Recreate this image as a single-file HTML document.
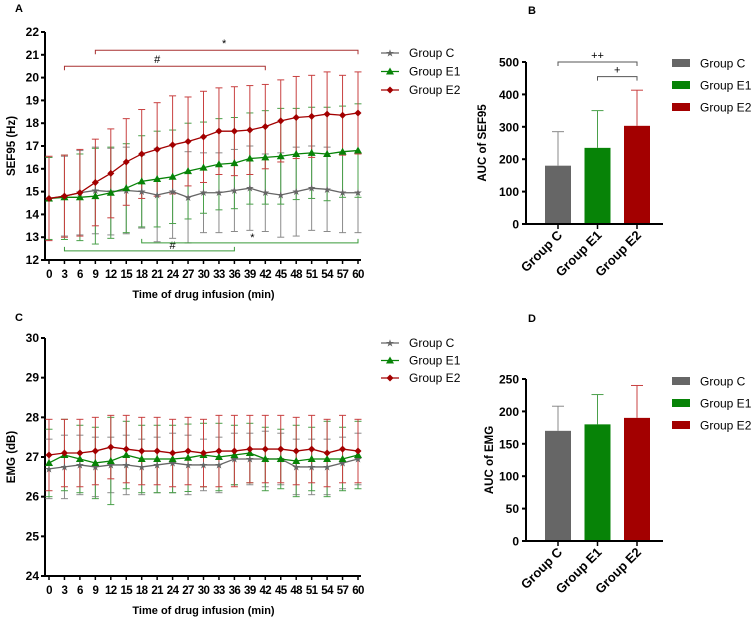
<!DOCTYPE html>
<html><head><meta charset="utf-8"><style>
body{margin:0;background:#fff}
svg{display:block;font-family:"Liberation Sans",Arial,sans-serif}
</style></head><body>
<svg id="s" width="753" height="625" viewBox="0 0 753 625"></svg>
<script>
const times=[0,3,6,9,12,15,18,21,24,27,30,33,36,39,42,45,48,51,54,57,60];
const sefC=[14.7,14.8,14.95,15.05,15.0,15.05,15.0,14.85,15.0,14.75,14.95,14.95,15.05,15.15,14.95,14.85,15.0,15.15,15.1,14.95,14.95];
const sefE1=[14.7,14.75,14.75,14.8,14.95,15.15,15.45,15.55,15.65,15.9,16.05,16.2,16.25,16.45,16.5,16.55,16.65,16.7,16.65,16.75,16.8];
const sefE2=[14.7,14.8,14.95,15.4,15.8,16.3,16.65,16.85,17.05,17.2,17.4,17.65,17.65,17.7,17.85,18.1,18.25,18.3,18.4,18.35,18.45];
const sefSdC=[1.8,1.75,1.85,1.9,1.9,1.9,1.6,2.05,2.05,2.0,1.75,1.75,1.8,1.85,1.7,1.85,1.95,1.85,1.85,1.75,1.75];
const sefSdE1=[1.8,1.85,1.9,2.1,2.0,1.95,2.0,2.1,2.05,2.1,2.0,2.0,2.0,2.0,2.05,2.1,2.0,2.0,2.05,2.0,2.05];
const sefSdE2=[1.85,1.8,1.9,1.9,1.95,1.9,1.95,2.05,2.15,1.95,2.0,1.9,1.95,1.95,1.85,1.8,1.8,1.8,1.85,1.75,1.8];
const emgC=[26.7,26.75,26.8,26.75,26.8,26.8,26.75,26.8,26.85,26.8,26.8,26.8,26.95,26.95,26.95,26.95,26.75,26.75,26.75,26.85,26.95];
const emgE1=[26.85,27.05,26.95,26.85,26.9,27.05,26.95,26.95,26.95,26.98,27.05,27.0,27.05,27.1,26.95,26.95,26.9,26.95,26.95,26.95,27.05];
const emgE2=[27.05,27.1,27.1,27.15,27.25,27.2,27.15,27.15,27.1,27.15,27.1,27.15,27.15,27.2,27.2,27.2,27.15,27.2,27.1,27.2,27.15];
const emgSdC=[0.75,0.8,0.75,0.75,0.7,0.75,0.7,0.7,0.75,0.75,0.65,0.7,0.65,0.65,0.7,0.65,0.7,0.7,0.7,0.65,0.65];
const emgSdE1=[0.85,0.9,0.85,0.9,1.1,0.85,0.85,0.85,0.85,0.85,0.8,0.85,0.75,0.75,0.8,0.75,0.9,0.8,0.95,0.8,0.85];
const emgSdE2=[0.9,0.85,0.85,0.85,0.8,0.85,0.85,0.85,0.85,0.85,0.85,0.9,0.9,0.85,0.85,0.85,0.85,0.85,0.85,0.85,0.8];
const groups=["Group C","Group E1","Group E2"];
const aucSef=[180,235,303];
const aucSefSd=[105,115,110];
const aucEmg=[170,180,190];
const aucEmgSd=[38,46,50];
const cols=["#666666","#078307","#a30000"];
const ecols=["#8a8a8a","#4aa04a","#c84040"];

const S=document.getElementById('s');const NS="http://www.w3.org/2000/svg";
function el(t,a,p,txt){const e=document.createElementNS(NS,t);for(const k in a)e.setAttribute(k,a[k]);if(txt!==undefined)e.textContent=txt;(p||S).appendChild(e);return e;}
function grp(name,p){const g=el('g',{},p);return g;}

function lineChart(o){
 const P=grp(o.name);
 const x=t=>o.x0+(t/60)*(o.x1-o.x0);
 const y=v=>o.yb+(v-o.ymin)/(o.ymax-o.ymin)*(o.yt-o.yb);
 const ax=grp('y-axis',P);
 el('line',{x1:o.ax,y1:o.yt,x2:o.ax,y2:o.yb,stroke:'#000','stroke-width':2},ax);
 for(let v=o.ymin;v<=o.ymax;v++){el('line',{x1:o.ax-4,y1:y(v),x2:o.ax,y2:y(v),stroke:'#000','stroke-width':2},ax);
  const t=el('text',{x:o.ax-6,y:y(v)+4,'text-anchor':'end','font-size':12,'font-weight':'bold'},ax,v);}
 const xa=grp('x-axis',P);
 el('line',{x1:o.ax-1,y1:o.yb,x2:o.x1+3,y2:o.yb,stroke:'#000','stroke-width':2},xa);
 times.forEach(t=>{el('line',{x1:x(t),y1:o.yb,x2:x(t),y2:o.yb+4,stroke:'#000','stroke-width':1.5},xa);
  const tl=el('text',{x:x(t),y:o.yb+18,'text-anchor':'middle','font-size':11.5,'font-weight':'bold','letter-spacing':'-0.6'},xa,t);});
 const xt=el('text',{x:(o.x0+o.x1)/2,y:o.yb+38,'text-anchor':'middle','font-size':11,'font-weight':'bold'},P,'Time of drug infusion (min)');
 const yt=el('text',{x:0,y:0,transform:`translate(${o.ax-30},${(o.yt+o.yb)/2}) rotate(-90)`,'text-anchor':'middle','font-size':11.5,'font-weight':'bold'},P,o.ytitle);
 const pl=el('text',{x:o.ax-30,y:o.ply,'font-size':11,'font-weight':'bold'},P,o.label);
 o.series.forEach((s,i)=>{
  const g=grp('series-'+groups[i].toLowerCase().replace(' ','-'),P);
  s.v.forEach((v,j)=>{const xx=x(times[j]);
   el('line',{x1:xx,y1:y(v-s.sd[j]),x2:xx,y2:y(v+s.sd[j]),stroke:ecols[i],'stroke-width':1},g);
   [v-s.sd[j],v+s.sd[j]].forEach(w=>el('line',{x1:xx-3.5,y1:y(w),x2:xx+3.5,y2:y(w),stroke:ecols[i],'stroke-width':1},g));});
 });
 o.series.forEach((s,i)=>{
  const g=grp('line-'+groups[i].toLowerCase().replace(' ','-'),P);
  el('polyline',{points:s.v.map((v,j)=>x(times[j])+','+y(v)).join(' '),fill:'none',stroke:cols[i],'stroke-width':1.3},g);
  s.v.forEach((v,j)=>marker(i,x(times[j]),y(v),g));
 });
 const L=grp('legend',P);
 groups.forEach((gname,i)=>{const ly=o.ly+i*o.ldy;
  el('line',{x1:o.lx,y1:ly,x2:o.lx+18,y2:ly,stroke:cols[i],'stroke-width':1.3},L);marker(i,o.lx+9,ly,L);
  const t=el('text',{x:o.lx+28,y:ly+4,'font-size':12},L,gname);});
 return {x,y,P};
}
function marker(i,cx,cy,p){
 if(i==0)el('text',{x:cx,y:cy+3.5,'text-anchor':'middle','font-size':10,fill:cols[0]},p,'★');
 else if(i==1)el('polygon',{points:`${cx},${cy-4} ${cx+4},${cy+3} ${cx-4},${cy+3}`,fill:cols[1]},p);
 else el('polygon',{points:`${cx},${cy-3.5} ${cx+3.5},${cy} ${cx},${cy+3.5} ${cx-3.5},${cy}`,fill:cols[2]},p);
}

const A=lineChart({name:'panel-a-sef95-chart',label:'A',ply:12,ax:45,x0:49,x1:358,yt:32,yb:260,ymin:12,ymax:22,ytitle:'SEF95 (Hz)',lx:381,ly:53,ldy:18.5,
 series:[{v:sefC,sd:sefSdC},{v:sefE1,sd:sefSdE1},{v:sefE2,sd:sefSdE2}]});
function bracket(p,x1,x2,yy,dir,col,lab,lx,name){const g=grp(name,p);
 el('path',{d:`M${x1},${yy+dir*4}V${yy}H${x2}V${yy+dir*4}`,fill:'none',stroke:col,'stroke-width':1},g);
 el('text',{x:lx,y:dir>0?yy-3:yy-2,'text-anchor':'middle','font-size':11},g,lab);}
bracket(A.P,A.x(9),A.x(60),A.y(21.2),1,'#a83030','*',A.x(34),'significance-star-e2');
bracket(A.P,A.x(3),A.x(42),A.y(20.5),1,'#a83030','#',A.x(21),'significance-hash-e2');
bracket(A.P,A.x(3),A.x(36),A.y(12.4),-1,'#3a9a3a','#',A.x(24),'significance-hash-e1');
bracket(A.P,A.x(18),A.x(60),A.y(12.75),-1,'#3a9a3a','*',A.x(39.5),'significance-star-e1');

lineChart({name:'panel-c-emg-chart',label:'C',ply:321,ax:45,x0:49,x1:358,yt:338,yb:576,ymin:24,ymax:30,ytitle:'EMG (dB)',lx:381,ly:343,ldy:17.5,
 series:[{v:emgC,sd:emgSdC},{v:emgE1,sd:emgSdE1},{v:emgE2,sd:emgSdE2}]});

function barChart(o){
 const P=grp(o.name);
 const y=v=>o.yb-(v/o.ymax)*(o.yb-o.yt);
 const bx=i=>558+i*39.5;
 const ax=grp('y-axis',P);
 el('line',{x1:526,y1:o.yt,x2:526,y2:o.yb,stroke:'#000','stroke-width':2},ax);
 for(let v=0;v<=o.ymax;v+=o.step){el('line',{x1:522,y1:y(v),x2:526,y2:y(v),stroke:'#000','stroke-width':2},ax);
  const t=el('text',{x:519,y:y(v)+4.5,'text-anchor':'end','font-size':12,'font-weight':'bold'},ax,v);}
 const yt=el('text',{x:0,y:0,transform:`translate(${o.tx},${(o.yt+o.yb)/2}) rotate(-90)`,'text-anchor':'middle','font-size':11.5,'font-weight':'bold'},P,o.ytitle);
 const pl=el('text',{x:528,y:o.ply,'font-size':11,'font-weight':'bold'},P,o.label);
 o.v.forEach((v,i)=>{const g=grp('bar-'+groups[i].toLowerCase().replace(' ','-'),P);
  el('rect',{x:bx(i)-13,y:y(v),width:26,height:o.yb-y(v),fill:cols[i]},g);
  el('line',{x1:bx(i),y1:y(v),x2:bx(i),y2:y(v+o.sd[i]),stroke:ecols[i],'stroke-width':1},g);
  el('line',{x1:bx(i)-6,y1:y(v+o.sd[i]),x2:bx(i)+6,y2:y(v+o.sd[i]),stroke:ecols[i],'stroke-width':1},g);});
 const xa=grp('x-axis',P);
 el('line',{x1:525,y1:o.yb,x2:663,y2:o.yb,stroke:'#000','stroke-width':2},xa);
 groups.forEach((gname,i)=>{el('line',{x1:bx(i),y1:o.yb,x2:bx(i),y2:o.yb+5,stroke:'#000','stroke-width':1.5},xa);
  const t=el('text',{x:0,y:0,transform:`translate(${bx(i)+5},${o.yb+12}) rotate(-45)`,'text-anchor':'end','font-size':13,'font-weight':'bold'},xa,gname);});
 const L=grp('legend',P);
 groups.forEach((gname,i)=>{const ly=o.ly+i*22;
  el('rect',{x:672,y:ly-4,width:18,height:8,fill:cols[i]},L);
  const t=el('text',{x:700,y:ly+4.5,'font-size':12},L,gname);});
 return {y,bx,P};
}
const B=barChart({name:'panel-b-auc-sef95',label:'B',ply:14,yt:62,yb:224,ymax:500,step:100,v:aucSef,sd:aucSefSd,ytitle:'AUC of SEF95',tx:486,ly:63});
bracket(B.P,B.bx(0),B.bx(2),B.y(500),1,'#555','++',B.bx(1),'significance-c-vs-e2');
bracket(B.P,B.bx(1),B.bx(2),B.y(455),1,'#555','+',(B.bx(1)+B.bx(2))/2,'significance-e1-vs-e2');
barChart({name:'panel-d-auc-emg',label:'D',ply:322,yt:379,yb:541,ymax:250,step:50,v:aucEmg,sd:aucEmgSd,ytitle:'AUC of EMG',tx:493,ly:381});
</script>
</body></html>
